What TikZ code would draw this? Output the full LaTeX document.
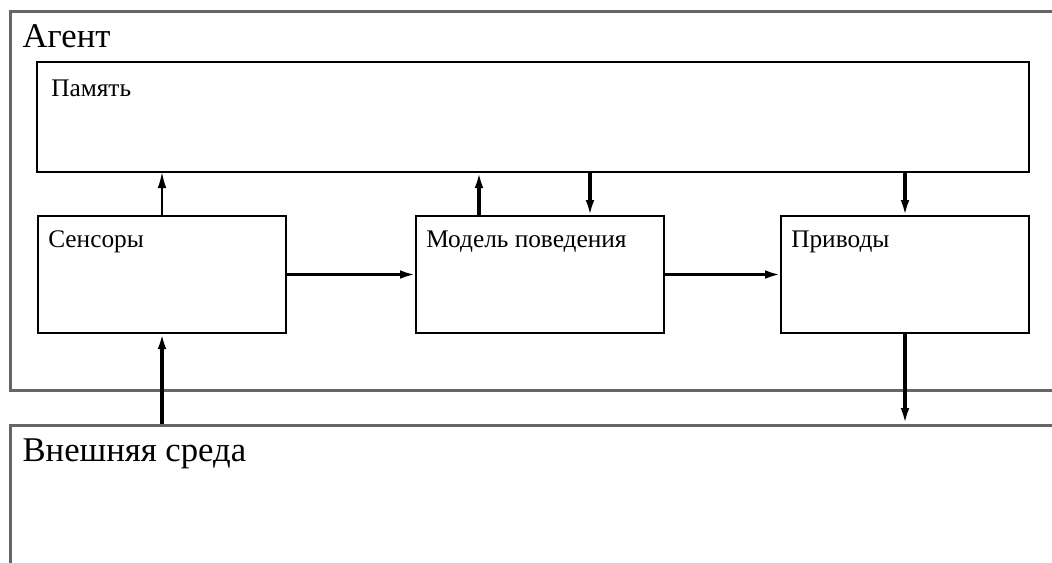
\documentclass[tikz,border=0pt]{standalone}
\usepackage{fontspec}
\setmainfont{Liberation Serif}
\usepackage{tikz}
\usetikzlibrary{positioning,arrows.meta}

\begin{document}
\begin{tikzpicture}[
  x=0.75pt, y=-0.75pt,
  outer/.style={draw=black!60, line width=2.2pt, anchor=north west, inner sep=0pt,
                label={[anchor=north west, inner xsep=10pt, inner ysep=11pt,
                        font=\fontsize{26}{28}\selectfont]north west:#1}},
  block/.style={draw, line width=1.5pt, anchor=north west, inner sep=0pt, outer sep=0pt,
                minimum width=186pt, minimum height=87.75pt},
  blocklbl/.style={label={[anchor=north west, inner xsep=7.5pt, inner ysep=11pt,
                           font=\fontsize{19}{21}\selectfont]north west:#1}},
  arr/.style={-{Latex[length=12pt,width=6.5pt]}, line width=2.3pt},
  thinarr/.style={arr, line width=1.3pt},
]
\useasboundingbox (0,0) rectangle (1052,562);
\clip (0,0) rectangle (1052,562);

\node[outer=Агент, minimum width=795pt, minimum height=284.25pt] (agent) at (9,10) {};
\node[outer=Внешняя среда, minimum width=795pt, minimum height=150pt] (env) at (9,424) {};

\node[block, minimum width=744pt, minimum height=82.5pt,
      label={[anchor=north west, inner xsep=10.5pt, inner ysep=13.5pt,
              font=\fontsize{19}{21}\selectfont]north west:Память}] (mem) at (37,62) {};
\node[block, blocklbl=Сенсоры] (sens) at (38,216) {};
\node[block, blocklbl=Модель поведения] (model) at (416,216) {};
\node[block, blocklbl=Приводы] (drv) at (781,216) {};

\draw[thinarr] (sens.north) -- (sens.north |- mem.south);
\draw[arr] ([xshift=-45.75pt]model.north) -- ([xshift=-45.75pt]model.north |- mem.south);
\draw[arr] ([xshift=37.5pt]model.north |- mem.south) -- ([xshift=37.5pt]model.north);
\draw[arr] (drv.north |- mem.south) -- (drv.north);
\draw[arr] (sens.east) -- (model.west);
\draw[arr] (model.east) -- (drv.west);
\draw[arr, line width=2.6pt] (sens.south |- env.north) -- (sens.south);
\draw[arr] (drv.south) -- (drv.south |- env.north);
\end{tikzpicture}
\end{document}
